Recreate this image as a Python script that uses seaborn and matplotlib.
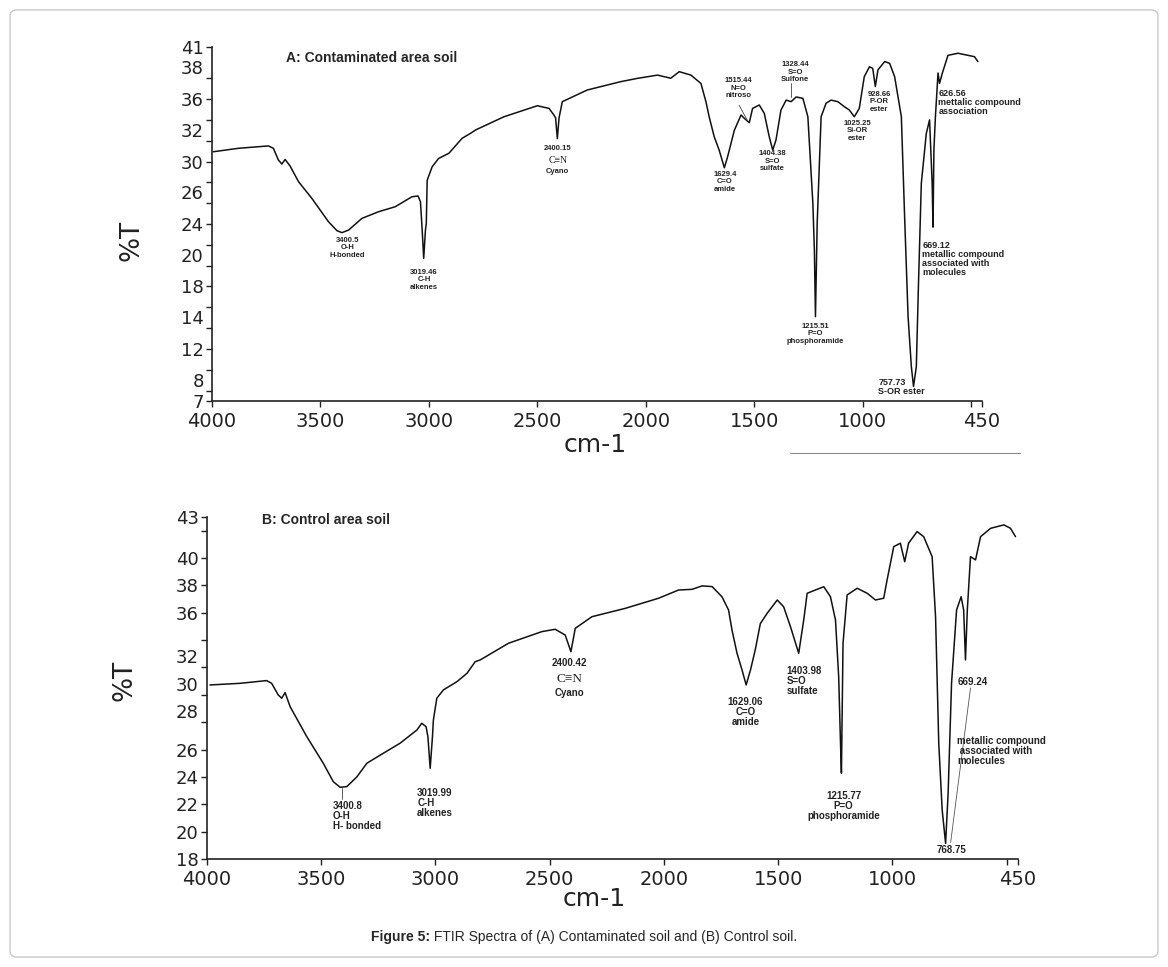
import numpy as np
import pandas as pd
import matplotlib.pyplot as plt
import seaborn as sns
from matplotlib.patches import FancyBboxPatch
from matplotlib.lines import Line2D
from matplotlib.offsetbox import TextArea, HPacker, AnchoredOffsetbox

# --- data (wavenumber cm-1, %T) ---
wn_a = [3994, 3878, 3740, 3717, 3694, 3678, 3663, 3640, 3601, 3540, 3463, 3424, 3401,
        3370, 3309, 3232, 3155, 3078, 3050, 3039, 3031, 3024, 3016, 3012, 3008, 2985,
        2955, 2908, 2847, 2808, 2785, 2654, 2500, 2446, 2424, 2416, 2408, 2400, 2385,
        2270, 2116, 2038, 1946, 1885, 1846, 1792, 1746, 1723, 1708, 1685, 1662, 1638,
        1623, 1592, 1561, 1546, 1523, 1508, 1477, 1454, 1431, 1415, 1400, 1377, 1353,
        1330, 1307, 1276, 1253, 1230, 1223, 1218, 1210, 1192, 1169, 1146, 1115, 1085,
        1062, 1039, 1016, 993, 969, 954, 942, 930, 899, 876, 853, 822, 807, 791, 776,
        766, 753, 743, 730, 707, 692, 680, 676, 672, 665, 653, 646, 633, 607, 561, 515,
        485, 469]
t_a = [30.94, 31.27, 31.5, 31.27, 30.15, 29.76, 30.2, 29.57, 28.06, 26.47, 24.22, 23.36,
       23.17, 23.42, 24.54, 25.18, 25.66, 26.62, 26.69, 26.14, 23.42, 20.7, 23.42, 24.06,
       28.2, 29.5, 30.3, 30.79, 32.23, 32.71, 33.03, 34.3, 35.36, 35.1, 34.47, 34.2, 32.2,
       34.2, 35.75, 36.87, 37.67, 37.99, 38.3, 38.0, 38.63, 38.3, 37.5, 35.75, 34.3, 32.4,
       31.1, 29.4, 30.46, 33.0, 34.47, 34.15, 33.73, 35.1, 35.43, 34.63, 32.38, 31.1, 32.07,
       34.95, 35.9, 35.75, 36.2, 36.07, 34.3, 26.0, 21.5, 15.1, 24.1, 34.3, 35.6, 35.9,
       35.75, 35.27, 34.95, 34.3, 35.1, 38.15, 39.1, 38.95, 37.2, 38.8, 39.6, 39.43, 38.15,
       34.3, 24.7, 15.1, 10.3, 8.4, 10.3, 18.3, 27.9, 32.7, 34.0, 27.9, 23.7, 31.1, 34.3,
       38.5, 37.5, 38.5, 40.2, 40.4, 40.2, 40.07, 39.6]

wn_b = [3987, 3855, 3739, 3717, 3688, 3673, 3658, 3636, 3563, 3491, 3447, 3417, 3388,
        3344, 3300, 3228, 3155, 3081, 3060, 3041, 3033, 3023, 3013, 3009, 2994, 2965,
        2906, 2862, 2826, 2804, 2680, 2534, 2476, 2432, 2407, 2388, 2315, 2169, 2023,
        1936, 1877, 1833, 1789, 1746, 1717, 1702, 1680, 1658, 1640, 1621, 1600, 1578,
        1548, 1504, 1476, 1446, 1410, 1388, 1373, 1337, 1300, 1271, 1249, 1235, 1227,
        1223, 1216, 1198, 1154, 1110, 1074, 1038, 1023, 994, 965, 946, 929, 892, 863,
        826, 811, 797, 782, 767, 756, 741, 719, 699, 688, 680, 672, 658, 636, 614, 570,
        512, 483, 461]
t_b = [30.72, 30.84, 31.04, 30.84, 29.99, 29.75, 30.16, 29.13, 26.94, 25.0, 23.65, 23.24,
       23.29, 24.0, 25.0, 25.73, 26.46, 27.43, 27.92, 27.67, 26.94, 24.63, 26.94, 28.16,
       29.75, 30.36, 30.96, 31.57, 32.42, 32.55, 33.77, 34.62, 34.79, 34.37, 33.15, 34.86,
       35.71, 36.32, 37.06, 37.66, 37.71, 37.96, 37.91, 37.17, 36.2, 34.74, 33.04, 31.82,
       30.72, 31.82, 33.3, 35.2, 35.96, 36.93, 36.44, 34.98, 33.04, 35.47, 37.42, 37.66,
       37.9, 37.17, 35.47, 31.33, 26.46, 24.27, 33.77, 37.3, 37.79, 37.42, 36.93, 37.06,
       38.4, 40.83, 41.08, 39.73, 41.08, 41.93, 41.56, 40.1, 35.71, 26.46, 21.58, 19.14,
       22.8, 30.84, 36.2, 37.17, 36.2, 32.55, 36.2, 40.1, 39.86, 41.56, 42.17, 42.42,
       42.17, 41.56]

xticks = [4000, 3500, 3000, 2500, 2000, 1500, 1000, 500, 450]
xtick_labels = ['4000', '3500', '3000', '2500', '2000', '1500', '1000', '', '450']

yticks_a = [7, 8, 10, 12, 14, 16, 18, 20, 22, 24, 26, 28, 30, 32, 34, 36, 38, 41]
ytick_labels_a = ['7', '8', '', '12', '14', '', '18', '20', '', '24', '26', '', '30',
                  '32', '', '36', '38', '41']
yticks_b = [18, 20, 22, 24, 26, 28, 30, 32, 34, 36, 38, 40, 42, 43]
ytick_labels_b = ['18', '20', '22', '24', '26', '28', '30', '32', '', '36', '38', '40',
                  '', '43']
# labels printed just above their tick mark in the scan
raised_a = ['8', '14', '20', '26', '32', '38']
raised_b = ['28', '30', '32']

title_a = 'A: Contaminated area soil'
title_b = 'B: Control area soil'
caption_bold = 'Figure 5:'
caption_rest = ' FTIR Spectra of (A) Contaminated soil and (B) Control soil.'

sns.set_style('ticks')
plt.rcParams['font.family'] = ['DejaVu Sans']
LAB = 'Liberation Sans'

fig = plt.figure(figsize=(11.68, 9.67), dpi=100)
ax1 = fig.add_axes([0.1815, 0.5853, 0.6593, 0.3661])
ax2 = fig.add_axes([0.1772, 0.1117, 0.6944, 0.3537])

df_a = pd.DataFrame({'wn': wn_a, 'T': t_a})
df_b = pd.DataFrame({'wn': wn_b, 'T': t_b})
sns.lineplot(data=df_a, x='wn', y='T', sort=False, estimator=None, color='#111111',
             lw=1.1, ax=ax1)
sns.lineplot(data=df_b, x='wn', y='T', sort=False, estimator=None, color='#111111',
             lw=1.1, ax=ax2)

for ax, yt, ytl, ylim, raised in [(ax1, yticks_a, ytick_labels_a, (7, 41), raised_a),
                                  (ax2, yticks_b, ytick_labels_b, (18, 43), raised_b)]:
    ax.set_xlim(4000, 450)
    ax.set_ylim(*ylim)
    ax.set_xticks(xticks)
    ax.set_xticklabels(xtick_labels, fontsize=14)
    ax.set_yticks(yt)
    ax.set_yticklabels(ytl, fontsize=13)
    ax.tick_params(direction='out', length=4, width=1, colors='#222222')
    ax.tick_params(axis='y', pad=2)
    ax.tick_params(axis='x', pad=4)
    for lab in ax.get_yticklabels():
        if lab.get_text() in raised:
            lab.set_verticalalignment('bottom')
    sns.despine(ax=ax)
    for s in ['left', 'bottom']:
        ax.spines[s].set_linewidth(1.2)
        ax.spines[s].set_color('#222222')
    ax.set_xlabel('cm-1', fontsize=18, color='#222222')
    ax.set_ylabel('%T', fontsize=19, color='#222222')

ax1.xaxis.set_label_coords(0.497, -0.091)
ax1.yaxis.set_label_coords(-0.087, 0.455)
ax2.xaxis.set_label_coords(0.478, -0.083)
ax2.yaxis.set_label_coords(-0.086, 0.523)

ax1.text(3658, 39.9, title_a, fontsize=10, fontweight='bold', family=LAB,
         va='center', ha='left')
ax2.text(3759, 42.8, title_b, fontsize=10, fontweight='bold', family=LAB,
         va='center', ha='left')


def note(ax, x, y, s, ha='center', size=5.5, ls=1.1, **kw):
    ax.text(x, y, s, ha=ha, va='top', fontsize=size, fontweight='bold', family=LAB,
            linespacing=ls, color='#222222', **kw)


# panel A peak labels
note(ax1, 3376, 22.8, '3400.5\nO-H\nH-bonded')
note(ax1, 3022, 19.7, '3019.46\nC-H\nalkenes')
note(ax1, 2406, 31.6, '2400.15')
ax1.text(2406, 30.1, 'C≡N', ha='center', va='center', fontsize=7, family='Liberation Serif',
         color='#222222')
note(ax1, 2406, 29.4, 'Cyano')
note(ax1, 1635, 29.1, '1629.4\nC=O\namide')
note(ax1, 1575, 38.1, '1515.44\nN=O\nnitroso')
ax1.plot([1570, 1533], [35.4, 34.0], color='#444444', lw=0.6)
note(ax1, 1312, 39.65, '1328.44\nS=O\nSulfone')
ax1.plot([1330, 1330], [37.5, 36.2], color='#444444', lw=0.6)
note(ax1, 1418, 31.1, '1404.38\nS=O\nsulfate')
note(ax1, 1219, 14.5, '1215.51\nP=O\nphosphoramide')
note(ax1, 1025, 34.0, '1025.25\nSi-OR\nester')
note(ax1, 924, 36.8, '928.66\nP-OR\nester')
note(ax1, 651, 37.0, '626.56\nmettalic compound\nassociation', ha='left', size=6.5, ls=1.0)
note(ax1, 725, 22.4, '669.12\nmetallic compound\nassociated with\nmolecules', ha='left',
     size=6.5, ls=1.0)
note(ax1, 929, 9.2, '757.73\nS-OR ester', ha='left', size=6.5, ls=1.0)

# panel B peak labels
note(ax2, 3448, 22.24, '3400.8\nO-H\nH- bonded', ha='left', size=7, ls=1.0)
ax2.plot([3409, 3409], [23.2, 22.35], color='#444444', lw=0.6)
note(ax2, 3080, 23.2, '3019.99\nC-H\nalkenes', ha='left', size=7, ls=1.0)
note(ax2, 2414, 32.7, '2400.42', size=7)
ax2.text(2414, 31.15, 'C≡N', ha='center', va='center', fontsize=9.5,
         family='Liberation Serif', color='#222222')
note(ax2, 2414, 30.5, 'Cyano', size=7)
note(ax2, 1643, 29.84, '1629.06\nC=O\namide', size=7, ls=1.0)
note(ax2, 1464, 32.1, '1403.98\nS=O\nsulfate', ha='left', size=7, ls=1.0)
note(ax2, 1214, 23.0, '1215.77\nP=O\nphosphoramide', size=7, ls=1.0)
note(ax2, 715, 31.3, '669.24', ha='left', size=7)
note(ax2, 715, 27.0, 'metallic compound\n associated with\nmolecules', ha='left', size=7,
     ls=1.0)
note(ax2, 741, 19.0, '768.75', size=7)
ax2.plot([658, 745], [30.5, 19.2], color='#555555', lw=0.6)

# frame, scan artefact line and caption
fig.patches.append(FancyBboxPatch((0.0086, 0.0103), 0.9828, 0.9794,
                                  boxstyle='round,pad=0,rounding_size=0.006',
                                  transform=fig.transFigure, fc='none', ec='#c8c8c8',
                                  lw=1))
fig.add_artist(Line2D([790 / 1168, 1020 / 1168], [1 - 453 / 967] * 2, color='#8a8a8a',
                      lw=0.8))

ta1 = TextArea(caption_bold, textprops=dict(fontweight='bold', fontsize=10, family=LAB))
ta2 = TextArea(caption_rest, textprops=dict(fontsize=10, family=LAB))
box = HPacker(children=[ta1, ta2], align='baseline', pad=0, sep=0)
anch = AnchoredOffsetbox(loc='center', child=box, pad=0, frameon=False, borderpad=0,
                         bbox_to_anchor=(584 / 1168, 1 - 937 / 967),
                         bbox_transform=fig.transFigure)
fig.add_artist(anch)

fig.savefig('out.png', dpi=100)
